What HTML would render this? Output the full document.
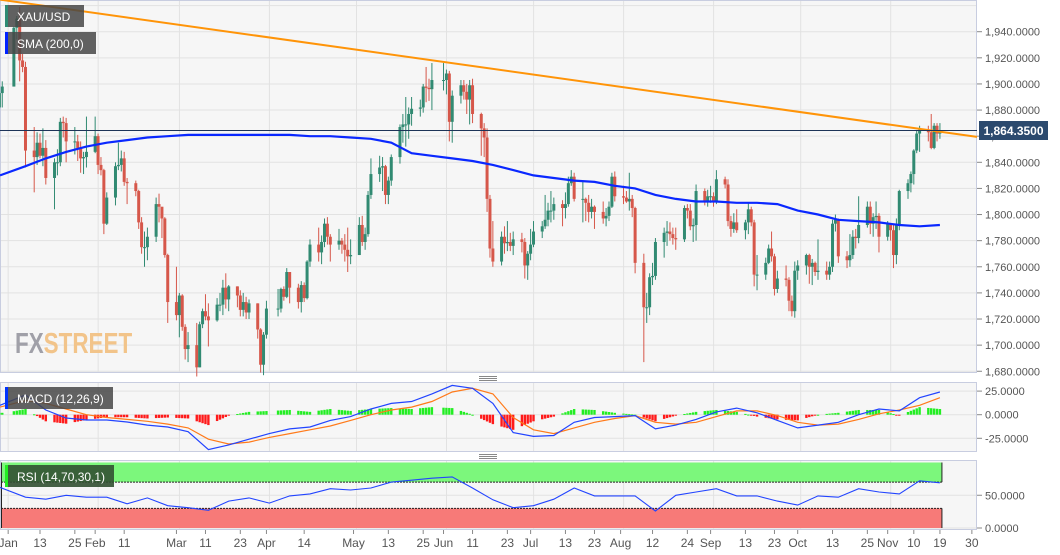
<!DOCTYPE html>
<html><head><meta charset="utf-8">
<style>
html,body{margin:0;padding:0;background:#fff;}
svg{display:block;font-family:"Liberation Sans",sans-serif;}
</style></head>
<body>
<svg id="chart" width="1060" height="555" viewBox="0 0 1060 555">
  <rect x="0.5" y="0.5" width="976" height="372" fill="#f6f6f6" stroke="#c8cde0"/>
  <rect x="0.5" y="382.5" width="976" height="69" fill="#f6f6f6" stroke="#c8cde0"/>
  <rect x="0.5" y="460.5" width="976" height="69" fill="#f6f6f6" stroke="#c8cde0"/>
  <g id="grid"></g>
  <g id="rsiBands"></g>
  <g id="macdG"></g>
  <g id="rsiG"></g>
  <g id="wm">
    <text x="0" y="0" font-size="34" font-weight="bold" transform="translate(15 353) scale(0.66 0.85)"><tspan fill="#a0a0a8">FX</tspan><tspan fill="#f2c48a">STREET</tspan></text>
  </g>
  <g id="candles"></g>
  <g id="lines"></g>
  <g id="axes"></g>
  <g stroke="#888" stroke-width="1">
    <line x1="479" y1="376.5" x2="497" y2="376.5"/><line x1="479" y1="378.5" x2="497" y2="378.5"/><line x1="479" y1="380.5" x2="497" y2="380.5"/>
  </g>
  <g stroke="#888" stroke-width="1">
    <line x1="479" y1="454.5" x2="497" y2="454.5"/><line x1="479" y1="456.5" x2="497" y2="456.5"/><line x1="479" y1="458.5" x2="497" y2="458.5"/>
  </g>
  <g>
    <rect x="5" y="5" width="79" height="22" fill="rgba(70,70,70,0.85)"/>
    <rect x="5" y="5" width="3" height="22" fill="#2e8b73"/>
    <text x="17" y="21" font-size="12" fill="#fff">XAU/USD</text>
  </g>
  <g>
    <rect x="5" y="32" width="91" height="22" fill="rgba(70,70,70,0.85)"/>
    <rect x="5" y="32" width="3" height="22" fill="#0022ff"/>
    <text x="17" y="48" font-size="12" fill="#fff">SMA (200,0)</text>
  </g>
  <g>
    <rect x="5" y="387" width="108" height="22" fill="rgba(70,70,70,0.85)"/>
    <rect x="5" y="387" width="3" height="22" fill="#0033ff"/>
    <text x="17" y="403" font-size="12" fill="#fff">MACD (12,26,9)</text>
  </g>
  <g>
    <rect x="5" y="465" width="109" height="22" fill="rgba(50,80,50,0.9)"/>
    <rect x="5" y="465" width="3" height="22" fill="#22ee22"/>
    <text x="17" y="481" font-size="12" fill="#fff">RSI (14,70,30,1)</text>
  </g>
  <g>
    <rect x="979" y="121" width="69" height="19" fill="#2c4a6e"/>
    <text x="1013.5" y="135" font-size="12" font-weight="bold" fill="#fff" text-anchor="middle">1,864.3500</text>
  </g>
</svg>
<script>
const closes=[1877,1882,1893,1898,
1943,1950,1918,1913,1849,
1844,1855,1845,1851,1828,
1840,1840,1871,1870,1856,
1856,1851,1843,1844,1848,
1860,1838,1834,1793,1813,
1837,1838,1843,1825,1824,
1818,1794,1775,1775,1783,
1808,1806,1797,1769,1733,
1723,1738,1714,1697,1700,
1683,1716,1726,1722,1719,
1731,1731,1744,1735,1745,
1738,1727,1733,1725,1732,
1712,1685,1708,1728,
1728,1743,1737,1756,1744,
1733,1746,1736,1764,1777,
1771,1779,1793,1783,1777,
1780,1777,1773,1768,1769,
1792,1779,1785,1815,1831,
1836,1837,1815,1826,1844,
1867,1869,1869,1877,1881,
1882,1898,1897,1896,1903,
1903,1908,1871,1891,
1899,1894,1888,1899,1877,
1866,1859,1812,1774,1764,
1783,1778,1779,1776,1781,
1779,1761,1770,1777,1787,
1791,1796,1803,1803,1808,
1805,1808,1824,1829,1812,
1812,1809,1802,1806,1802,
1797,1799,1806,1829,1814,
1813,1810,1812,1805,1763,
1729,1729,1752,1753,1779,
1786,1787,1785,1782,1781,
1805,1803,1791,1792,1818,
1810,1814,1814,1810,1827,
1823,1795,1789,1794,1788,
1794,1804,1794,1754,1754,
1763,1774,1768,1743,1751,
1750,1734,1726,1757,1761,
1769,1760,1763,1756,1757,
1754,1760,1793,1796,1768,
1765,1769,1783,1782,1792,
1806,1793,1798,1799,1783,
1793,1788,1769,1792,1818,
1824,1831,1849,1862,1865,
1863,1851,1868,1862,1864.35];
const highs=[1884,1890,1896,1902,
1944,1952,1959,1923,1917,
1867,1863,1862,1866,1857,
1843,1850,1874,1875,1874,
1867,1861,1856,1848,1875,
1875,1862,1844,1835,1817,
1840,1855,1849,1848,1828,
1826,1819,1798,1787,1790,
1813,1816,1805,1798,1770,
1760,1740,1739,1716,1710,
1717,1718,1728,1739,1732,
1736,1740,1750,1755,1746,
1745,1742,1740,1737,1735,
1732,1713,1710,1734,
1743,1744,1745,1759,1756,
1747,1749,1748,1765,1781,
1790,1784,1797,1798,1785,
1789,1782,1785,1790,1781,
1798,1799,1790,1818,1843,
1845,1844,1838,1829,1846,
1869,1877,1890,1882,1890,
1888,1900,1913,1904,1916,
1916,1911,1910,1895,
1903,1903,1900,1903,1904,
1878,1870,1866,1815,1795,
1787,1791,1795,1786,1787,
1786,1782,1772,1789,1795,
1795,1815,1809,1818,1813,
1811,1817,1829,1834,1832,
1825,1813,1815,1812,1807,
1810,1805,1810,1832,1833,
1822,1818,1832,1815,1806,
1770,1740,1755,1763,1782,
1790,1795,1794,1790,1790,
1807,1808,1808,1797,1823,
1820,1819,1822,1817,1834,
1829,1827,1799,1801,1804,
1796,1809,1806,1796,1769,
1767,1777,1787,1770,1757,
1761,1752,1738,1764,1765,
1770,1770,1766,1764,1781,
1764,1764,1796,1800,1797,
1772,1785,1788,1789,1814,
1810,1810,1801,1810,1801,
1795,1793,1792,1797,1819,
1827,1833,1850,1864,1868,
1868,1877,1870,1870,1870];
const lows=[1868,1872,1874,1882,
1898,1934,1902,1909,1836,
1817,1838,1843,1837,1823,
1804,1830,1837,1859,1840,
1846,1841,1832,1831,1836,
1847,1831,1830,1785,1792,
1807,1834,1833,1822,1808,
1814,1789,1770,1760,1765,
1779,1794,1782,1767,1717,
1719,1706,1711,1689,1687,
1676,1683,1713,1719,1699,
1718,1726,1723,1728,1726,
1729,1722,1722,1720,1720,
1705,1679,1677,1705,
1722,1725,1734,1736,1732,
1728,1725,1733,1735,1760,
1764,1762,1775,1777,1764,
1773,1770,1764,1756,1762,
1769,1776,1773,1783,1812,
1825,1818,1808,1808,1822,
1839,1855,1852,1858,1868,
1875,1878,1886,1887,1880,
1895,1892,1856,1855,
1885,1888,1877,1869,1870,
1845,1844,1802,1767,1760,
1761,1770,1772,1772,1769,
1771,1751,1750,1765,1775,
1782,1789,1791,1794,1796,
1791,1797,1806,1822,1810,
1794,1795,1794,1797,1789,
1793,1791,1795,1805,1810,
1808,1809,1803,1798,1755,
1687,1717,1723,1746,1750,
1767,1776,1780,1777,1773,
1779,1797,1788,1779,1780,
1807,1806,1809,1806,1808,
1820,1791,1783,1786,1786,
1781,1785,1791,1745,1742,
1750,1762,1764,1738,1740,
1745,1726,1722,1721,1750,
1754,1747,1746,1753,1750,
1750,1750,1756,1787,1763,
1759,1760,1766,1774,1778,
1790,1785,1783,1789,1771,
1780,1780,1759,1762,1788,
1812,1817,1823,1847,1848,
1856,1850,1850,1856,1858];
const firstOpen=1873;
const holidays=["2021-01-01","2021-04-02","2021-05-31"];
// weekly (Fridays, day-of-year 1+7k) indicator values
const smaWeekly=[1830,1837,1843,1848,1852,1855,1857,1859,1860,1861,1861,1861,1861,1861,1861,1860,1860,1859,1858,1855,1847,1845,1843,1841,1838,1834,1830,1828,1826,1825,1822,1820,1815,1812,1810,1810,1809,1809,1808,1803,1800,1796,1795,1794,1792,1791,1792];
const macdWeekly=[10,21,5,-3.5,-5.6,-5.6,-7.7,-11,-13,-18,-37,-32,-26,-20,-15,-13,-6,-2,6,12,14,22,31,28,12,-19,-23,-22,-8,-3,-2,-1,-15,-11,-5,3,7,2,-6,-14,-11,-8,0,6,4,18,24];
const signalWeekly=[8,15,12,6,0,-3,-5,-7,-10,-14,-26,-31,-29,-24,-20,-16,-12,-6,0,5,8,14,24,28,22,-3,-16,-20,-14,-8,-4,-1,-8,-10,-8,-2,4,4,-1,-8,-11,-10,-5,1,5,10,18];
const rsiWeekly=[62,47,44,50,47,47,37,46,34,31,27,41,46,38,49,52,60,58,61,70,73,76,78,61,43,31,34,44,61,49,49,49,26,50,55,60,49,49,41,35,49,47,60,55,52,72,69];
const trendPts=[[1,1964],[334,1860]];
const lastPrice=1864.35;
const priceTicks=[1680,1700,1720,1740,1760,1780,1800,1820,1840,1860,1880,1900,1920,1940];
const macdTicks=[25,0,-25];
const rsiTicks=[50,0];
const dateLabels=["Jan","13","25","Feb","11","Mar","11","23","Apr","14","May","13","25","Jun","11","23","Jul","13","23","Aug","12","24","Sep","13","23","Oct","13","25","Nov","10","19","30"];
const dateLabelDoy=[1,13,25,32,42,60,70,82,91,104,121,133,145,152,162,174,182,194,204,213,224,236,244,256,266,274,286,298,305,314,323,334];
const monthStartDoy=[1,32,60,91,121,152,182,213,244,274,305];

const NS="http://www.w3.org/2000/svg";
function el(tag,attrs,parent){const e=document.createElementNS(NS,tag);for(const k in attrs)e.setAttribute(k,attrs[k]);parent.appendChild(e);return e;}
const xOf=d=>40+(d-13)*2.903;
const yP=p=>31.7+(1940-p)*1.306;
const yM=v=>414.7-v*0.944;
const yR=v=>528-v*0.655;
const wkDoy=k=>1+7*k;

const dates=[];
{let t=Date.UTC(2020,11,28);const base=Date.UTC(2021,0,1);
 while(dates.length<closes.length){const d=new Date(t);const wd=d.getUTCDay();const s=d.toISOString().slice(0,10);
  if(wd!==0&&wd!==6&&holidays.indexOf(s)<0)dates.push(Math.round((t-base)/86400000)+1);t+=86400000;}}

const grid=document.getElementById('grid');
priceTicks.forEach(p=>{const l=el('line',{x1:1,x2:976,y1:yP(p),y2:yP(p),stroke:'#e2e2e2','stroke-width':1},grid);

});
el('line',{x1:1,x2:976,y1:yP(1960),y2:yP(1960),stroke:'#e2e2e2'},grid);
monthStartDoy.forEach(d=>{[[1,372],[383,451],[461,529]].forEach(r=>{const l=el('line',{x1:xOf(d)+3,x2:xOf(d)+3,y1:r[0],y2:r[1],stroke:'#e2e2e2'},grid);

});});
macdTicks.forEach(v=>{el('line',{x1:1,x2:976,y1:yM(v),y2:yM(v),stroke:'#e2e2e2'},grid);});
rsiTicks.forEach(v=>{el('line',{x1:1,x2:976,y1:yR(v),y2:yR(v),stroke:'#e2e2e2'},grid);});

const rb=document.getElementById('rsiBands');
const bandEnd=xOf(dates[dates.length-1])+2;
{const g=el('rect',{x:1,y:yR(100),width:bandEnd-1,height:yR(70)-yR(100),fill:'#7cf77c'},rb);


const r=el('rect',{x:1,y:yR(30),width:bandEnd-1,height:yR(0)-yR(30),fill:'#f77a78'},rb);


[70,30].forEach(v=>el('line',{x1:1,x2:bandEnd,y1:yR(v),y2:yR(v),stroke:'#222','stroke-dasharray':'2,1'},rb));
el('line',{x1:bandEnd,x2:bandEnd,y1:yR(100),y2:yR(70),stroke:'#222'},rb);
el('line',{x1:bandEnd,x2:bandEnd,y1:yR(30),y2:yR(0),stroke:'#222'},rb);
el('line',{x1:1.5,x2:1.5,y1:yR(100),y2:yR(0),stroke:'#222'},rb);}

function weeklyAt(arr,doy){const k=(doy-1)/7;if(k<=0)return arr[0];if(k>=arr.length-1)return arr[arr.length-1];const i=Math.floor(k),f=k-i;return arr[i]*(1-f)+arr[i+1]*f;}

const mg=document.getElementById('macdG');
dates.forEach(d=>{const h=weeklyAt(macdWeekly,d)-weeklyAt(signalWeekly,d);const y0=yM(0),y1=yM(h);
 const b=el('rect',{x:xOf(d)-1.2,y:Math.min(y0,y1),width:2.4,height:Math.max(1,Math.abs(y1-y0)),fill:h>=0?'#22ee22':'#ff1a1a'},mg);
 
 });
function weeklyPath(arr,yf){return arr.map((v,k)=>(k?'L':'M')+(k?xOf(wkDoy(k)):0).toFixed(1)+','+yf(v).toFixed(1)).join('');}
{const s=el('path',{d:weeklyPath(signalWeekly,yM),fill:'none',stroke:'#ff7a1a','stroke-width':1.2},mg);


const m=el('path',{d:weeklyPath(macdWeekly,yM),fill:'none',stroke:'#2244ff','stroke-width':1.2},mg);

}
const rg=document.getElementById('rsiG');
{const r=el('path',{d:weeklyPath(rsiWeekly,yR),fill:'none',stroke:'#2244ff','stroke-width':1.1},rg);

}

const cg=document.getElementById('candles');
closes.forEach((c,i)=>{const o=i?closes[i-1]:firstOpen;const x=xOf(dates[i]);const up=c>=o;const col=up?'#318a72':'#d6574a';
 const g=el('g',{},cg);
 
 
 el('line',{x1:x,x2:x,y1:yP(highs[i]),y2:yP(lows[i]),stroke:col,'stroke-width':1},g);
 const yt=yP(Math.max(o,c)),yb=yP(Math.min(o,c));
 el('rect',{x:x-1.5,y:yt,width:3,height:Math.max(1,yb-yt),fill:col},g);});

const lg=document.getElementById('lines');
{const s=el('path',{d:weeklyPath(smaWeekly,yP),fill:'none',stroke:'#0a28ff','stroke-width':2.2},lg);


const slope=(trendPts[1][1]-trendPts[0][1])/(trendPts[1][0]-trendPts[0][0]);
const dAt=x=>13+(x-40)/2.903;
const t=el('line',{x1:0,y1:yP(trendPts[0][1]+slope*(dAt(0)-trendPts[0][0])),x2:977,y2:yP(trendPts[0][1]+slope*(dAt(977)-trendPts[0][0])),stroke:'#ff9408','stroke-width':2},lg);


const p=el('line',{x1:0,x2:977,y1:yP(lastPrice),y2:yP(lastPrice),stroke:'#1d3458','stroke-width':1},lg);

}

const ag=document.getElementById('axes');
priceTicks.forEach(p=>{el('line',{x1:977,x2:982,y1:yP(p),y2:yP(p),stroke:'#888'},ag);
 const t=el('text',{x:985,y:yP(p)+4,'font-size':11,fill:'#555'},ag);t.textContent=p.toLocaleString('en-US')+'.0000';
 
 });
macdTicks.forEach(v=>{el('line',{x1:977,x2:982,y1:yM(v),y2:yM(v),stroke:'#888'},ag);
 const t=el('text',{x:985,y:yM(v)+4,'font-size':11,fill:'#555'},ag);t.textContent=(v>0?' ':'')+v.toFixed(4);
 
 });
rsiTicks.forEach(v=>{el('line',{x1:977,x2:982,y1:yR(v),y2:yR(v),stroke:'#888'},ag);
 const t=el('text',{x:985,y:yR(v)+4,'font-size':11,fill:'#555'},ag);t.textContent=v.toFixed(4);
 
 });
dateLabels.forEach((s,i)=>{const x=xOf(dateLabelDoy[i])+(i===0?3:0);
 el('line',{x1:x,x2:x,y1:530,y2:534,stroke:'#888'},ag);
 const t=el('text',{x:x,y:547,'font-size':12,fill:'#555','text-anchor':'middle'},ag);t.textContent=s;
 
 });
</script>
</body></html>
